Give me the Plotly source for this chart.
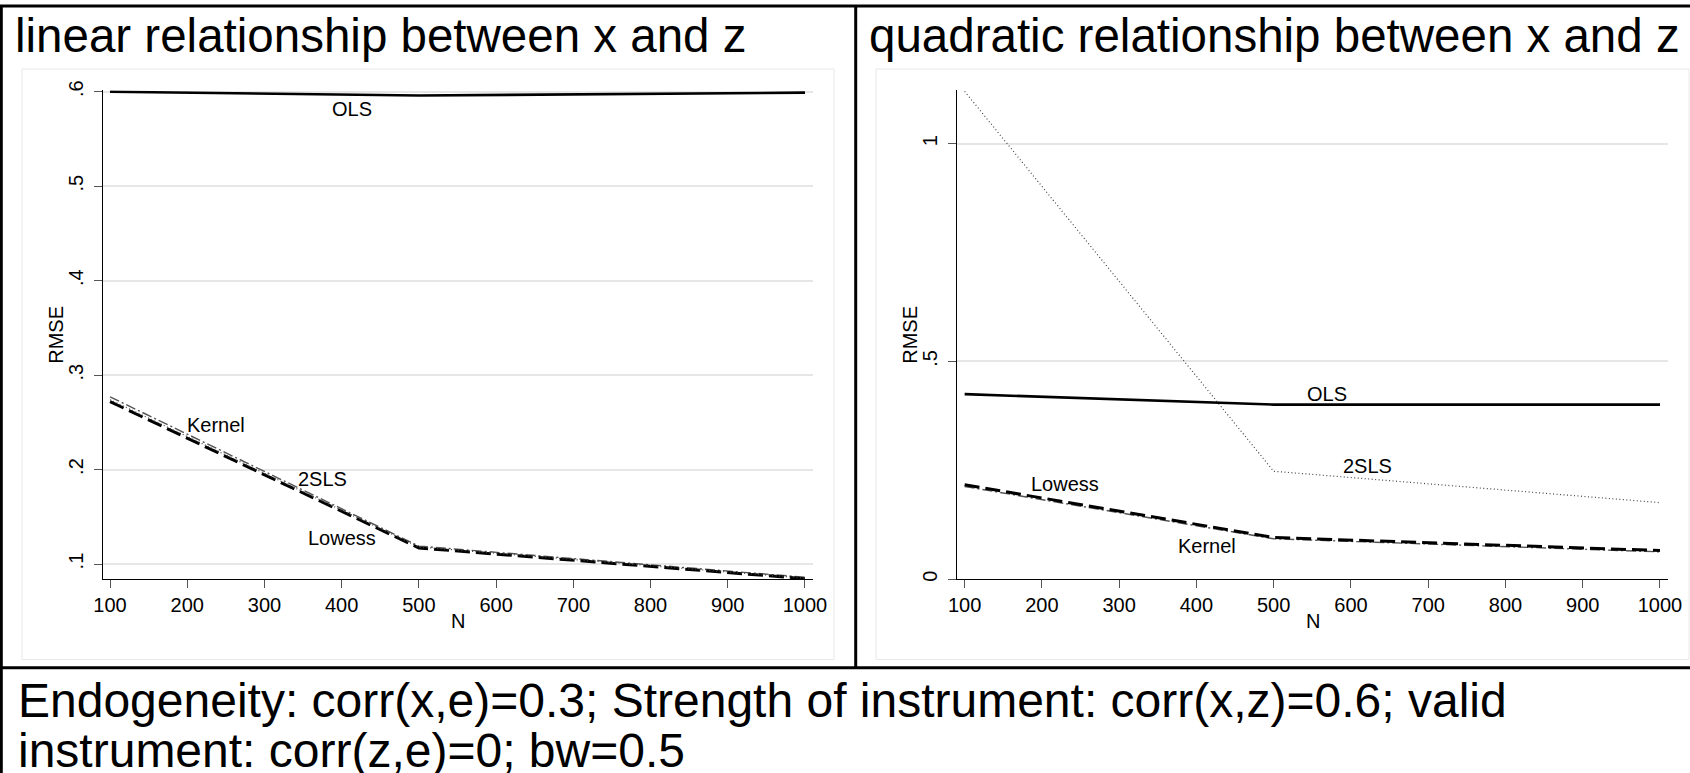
import plotly.graph_objects as go

W, H = 1690, 773
FONT = "Liberation Sans, Arial, Helvetica, sans-serif"

# ---------------- data ----------------
N = [100, 500, 1000]
linear_ols = [0.600, 0.596, 0.599]
linear_2sls = [0.274, 0.118, 0.085]
linear_lowess = [0.272, 0.117, 0.0845]
linear_kernel = [0.277, 0.119, 0.086]

quad_ols = [0.425, 0.401, 0.401]
quad_2sls = [1.12, 0.248, 0.176]
quad_lowess = [0.217, 0.096, 0.066]
quad_kernel = [0.213, 0.093, 0.063]

x_ticks = [100, 200, 300, 400, 500, 600, 700, 800, 900, 1000]
linear_yticks = [0.1, 0.2, 0.3, 0.4, 0.5, 0.6]
linear_ytext = [".1", ".2", ".3", ".4", ".5", ".6"]
quad_yticks = [0, 0.5, 1]
quad_ytext = ["0", ".5", "1"]

label_names = ["OLS", "Kernel", "2SLS", "Lowess"]
linear_label_x = [414, 237, 375, 400]
linear_label_y = [0.5815, 0.2475, 0.1905, 0.128]
quad_label_x = [569, 414, 622, 230]
quad_label_y = [0.426, 0.0764, 0.259, 0.2195]

titles = ["linear relationship between x and z", "quadratic relationship between x and z"]
note_lines = ["Endogeneity: corr(x,e)=0.3; Strength of instrument: corr(x,z)=0.6; valid",
              "instrument: corr(z,e)=0; bw=0.5"]

# ---------------- helpers ----------------
def px(x):
    return x / W

def py(y):
    return 1 - y / H

styles = {
    "OLS": dict(color="black", width=2.6, dash="solid"),
    "2SLS": dict(color="#444444", width=1.2, dash="1px,2.5px"),
    "Lowess": dict(color="black", width=3, dash="15px,6px"),
    "Kernel": dict(color="#555555", width=1.4, dash="10px,3px,2px,3px"),
}

fig = go.Figure()

panels = [
    ("x", "y", {"OLS": linear_ols, "Kernel": linear_kernel, "2SLS": linear_2sls, "Lowess": linear_lowess}),
    ("x2", "y2", {"OLS": quad_ols, "Kernel": quad_kernel, "2SLS": quad_2sls, "Lowess": quad_lowess}),
]
for xa, ya, series in panels:
    for name in ["Kernel", "Lowess", "2SLS", "OLS"]:
        fig.add_trace(go.Scatter(x=N, y=series[name], mode="lines", line=styles[name],
                                 xaxis=xa, yaxis=ya, showlegend=False, hoverinfo="skip"))

# plot area geometry (pixels)
top_px, bot_px = 90.3, 579.3
left_dom = [px(102.7), px(812.7)]
right_dom = [px(957.3), px(1667.7)]
ydom = [py(bot_px), py(top_px)]

axis_common = dict(showline=True, linecolor="black", linewidth=1.3, ticks="outside", ticklen=8,
                   tickwidth=1.3, tickcolor="#555555", zeroline=False, automargin=False,
                   tickfont=dict(family=FONT, size=20, color="black"))

xrange = [90.5, 1010]
fig.update_layout(
    template="none",
    xaxis=dict(domain=left_dom, range=xrange, tickvals=x_ticks, showgrid=False, anchor="y", **axis_common),
    xaxis2=dict(domain=right_dom, range=xrange, tickvals=x_ticks, showgrid=False, anchor="y2", **axis_common),
    yaxis=dict(domain=ydom, range=[0.08385, 0.6015], tickvals=linear_yticks, ticktext=linear_ytext,
               tickangle=-90, ticklabelstandoff=3, showgrid=True, gridcolor="#e6e6e6", gridwidth=1.5,
               anchor="x", **axis_common),
    yaxis2=dict(domain=ydom, range=[0, 1.1225], tickvals=quad_yticks, ticktext=quad_ytext,
                tickangle=-90, ticklabelstandoff=3, showgrid=True, gridcolor="#e6e6e6", gridwidth=1.5,
                anchor="x2", **axis_common),
    width=W, height=H, autosize=False, margin=dict(l=0, r=0, t=0, b=0, pad=0),
    paper_bgcolor="white", plot_bgcolor="white",
    font=dict(family=FONT, color="black"),
)

ann = []
# line labels
for xa, ya, xs, ys in [("x", "y", linear_label_x, linear_label_y), ("x2", "y2", quad_label_x, quad_label_y)]:
    for t, xv, yv in zip(label_names, xs, ys):
        ann.append(dict(x=xv, y=yv, xref=xa, yref=ya, text=t, showarrow=False,
                        font=dict(size=20, family=FONT, color="black"), xanchor="center", yanchor="middle"))
# axis titles
for cx in [457.7, 1312.5]:
    ann.append(dict(x=px(cx), y=py(621), xref="paper", yref="paper", text="N", showarrow=False,
                    font=dict(size=20, family=FONT), xanchor="center", yanchor="middle"))
for cx in [56, 910]:
    ann.append(dict(x=px(cx), y=py(334.8), xref="paper", yref="paper", text="RMSE", showarrow=False,
                    textangle=-90, font=dict(size=20, family=FONT), xanchor="center", yanchor="middle"))
# panel titles
for tx, t in zip([13, 867], titles):
    ann.append(dict(x=px(tx), y=py(35.5), xref="paper", yref="paper", text=t, showarrow=False,
                    font=dict(size=47.5, family=FONT, color="black"), xanchor="left", yanchor="middle"))
# note
for ly, t in zip([700.5, 750.5], note_lines):
    ann.append(dict(x=px(15.5), y=py(ly), xref="paper", yref="paper", text=t, showarrow=False,
                    font=dict(size=48, family=FONT, color="black"), xanchor="left", yanchor="middle"))
fig.update_layout(annotations=ann)

shapes = []
# light inner frames
for x0, x1 in [(22, 834), (876, 1689)]:
    shapes.append(dict(type="rect", xref="paper", yref="paper", x0=px(x0), x1=px(x1), y0=py(659.5), y1=py(69),
                       line=dict(color="#e8e8e8", width=1), fillcolor="rgba(0,0,0,0)", layer="below"))
# black borders
blk = dict(color="black", width=3)
shapes.append(dict(type="line", xref="paper", yref="paper", x0=0, x1=1, y0=py(6), y1=py(6), line=blk))
shapes.append(dict(type="line", xref="paper", yref="paper", x0=px(1.3), x1=px(1.3), y0=py(6), y1=0, line=blk))
shapes.append(dict(type="line", xref="paper", yref="paper", x0=px(855.7), x1=px(855.7), y0=py(6), y1=py(667.7), line=blk))
shapes.append(dict(type="line", xref="paper", yref="paper", x0=0, x1=1, y0=py(667.7), y1=py(667.7), line=blk))
fig.update_layout(shapes=shapes)

fig.write_html("out.html", config={"displayModeBar": False},
               post_script="document.body.style.margin='0';document.body.style.overflow='hidden';")
